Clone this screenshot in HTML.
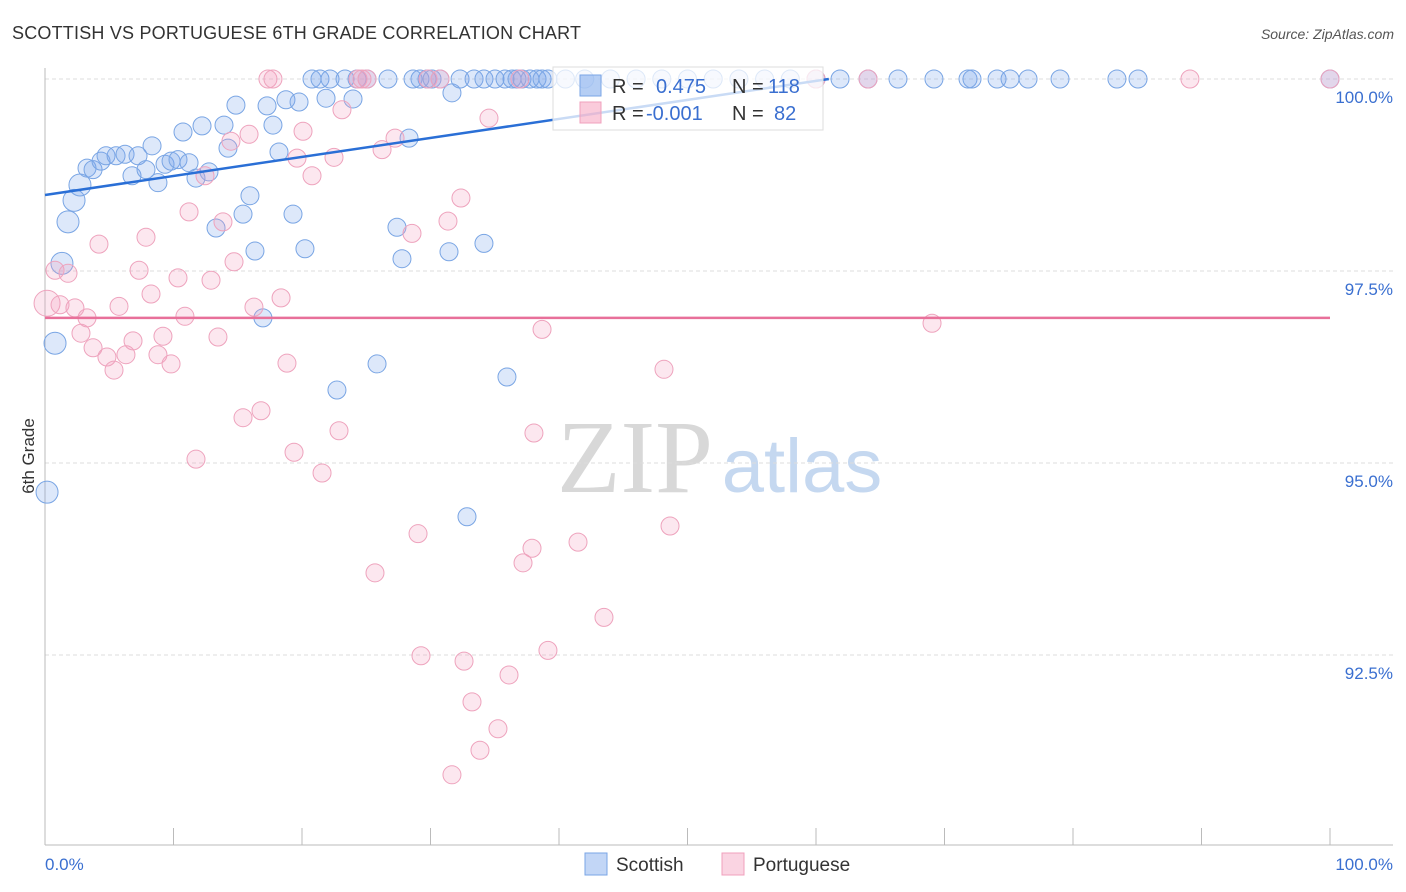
<!DOCTYPE html>
<html><head><meta charset="utf-8">
<style>
body{margin:0;background:#fff;font-family:"Liberation Sans",sans-serif;}
svg{display:block}
</style></head>
<body>
<svg id="chart" width="1406" height="892">
<text x="12" y="39" font-size="18" fill="#333" textLength="569">SCOTTISH VS PORTUGUESE 6TH GRADE CORRELATION CHART</text>
<text x="1394" y="39" font-size="14" fill="#555" font-style="italic" text-anchor="end">Source: ZipAtlas.com</text>
<text x="34" y="456" font-size="17" fill="#333" text-anchor="middle" transform="rotate(-90 34 456)">6th Grade</text>
<g>
<text x="635" y="492" font-size="104" fill="#d8d8d8" font-family="Liberation Serif,serif" text-anchor="middle">ZIP</text>
<text x="802" y="492" font-size="76" fill="#c5d8f0" text-anchor="middle">atlas</text>
</g>
<g id="grid"></g>
<g id="axes"></g>
<g id="pts"></g>
<g id="lines"></g>
<g>
<rect x="553" y="67" width="270" height="63" fill="rgba(255,255,255,0.75)" stroke="#ddd"/>
<rect x="580" y="75" width="21" height="21" fill="rgba(120,165,235,0.55)" stroke="#7aa5e6"/>
<rect x="580" y="102" width="21" height="21" fill="rgba(245,160,190,0.55)" stroke="#f0a0bc"/>
<text x="612" y="93" font-size="20" fill="#333">R =</text>
<text x="656" y="93" font-size="20" fill="#3a6fd0">0.475</text>
<text x="732" y="93" font-size="20" fill="#333">N =</text>
<text x="768" y="93" font-size="20" fill="#3a6fd0">118</text>
<text x="612" y="120" font-size="20" fill="#333">R =</text>
<text x="646" y="120" font-size="20" fill="#3a6fd0">-0.001</text>
<text x="732" y="120" font-size="20" fill="#333">N =</text>
<text x="774" y="120" font-size="20" fill="#3a6fd0">82</text>
</g>
<g>
<rect x="585" y="853" width="22" height="22" fill="rgba(120,165,235,0.45)" stroke="#7aa5e6"/>
<text x="616" y="871" font-size="19" fill="#333">Scottish</text>
<rect x="722" y="853" width="22" height="22" fill="rgba(245,160,190,0.45)" stroke="#f0a0bc"/>
<text x="753" y="871" font-size="19" fill="#333">Portuguese</text>
</g>
</svg>
<script>
const yTicks=[100,97.5,95,92.5];
const yTickLabels=["100.0%","97.5%","95.0%","92.5%"];
const xEndLabels=["0.0%","100.0%"];
const scottishX=[0.16,0.78,1.32,1.79,2.26,2.72,3.27,3.74,4.36,4.75,5.53,6.23,6.77,7.24,7.86,8.33,8.79,9.34,9.81,10.35,10.74,11.21,11.75,12.22,12.76,13.31,13.93,14.24,14.86,15.41,15.95,16.34,16.96,17.28,17.74,18.21,18.75,19.3,19.77,20.23,21.87,22.72,23.97,25.84,27.39,27.78,28.33,31.44,31.67,32.84,34.16,35.95,
20.78,21.4,22.18,23.35,24.28,25.06,26.69,28.64,29.18,29.73,30.12,30.74,32.3,33.39,34.16,35.02,35.8,36.34,36.73,37.12,37.74,38.29,38.68,39.14,40.5,42,44,46,48,50,52,54,56,58,60,61.87,64.05,66.38,69.18,71.83,72.14,74.09,75.1,76.5,78.99,83.42,85.06,100];
const scottishY=[94.62,96.56,97.6,98.14,98.42,98.62,98.84,98.82,98.93,99,99,99.02,98.74,99,98.82,99.13,98.65,98.89,98.93,98.95,99.31,98.91,98.71,99.39,98.79,98.06,99.4,99.1,99.66,98.24,98.48,97.76,96.89,99.65,99.4,99.05,99.73,98.24,99.7,97.79,99.75,95.95,99.74,96.29,98.07,97.66,99.23,97.75,99.82,94.3,97.86,96.12,
100,100,100,100,100,100,100,100,100,100,100,100,100,100,100,100,100,100,100,100,100,100,100,100,100,100,100,100,100,100,100,100,100,100,100,100,100,100,100,100,100,100,100,100,100,100,100,100];
const portugueseX=[0.16,0.78,1.17,1.79,2.33,2.8,3.27,3.74,4.2,4.82,5.37,5.76,6.3,6.85,7.32,7.86,8.25,8.79,9.18,9.81,10.35,10.89,11.21,11.75,12.45,12.92,13.46,13.85,14.47,14.71,15.41,15.88,16.26,16.81,17.35,17.74,18.37,18.83,19.38,19.61,20.08,20.78,21.56,22.49,22.88,23.11,24.36,24.67,25.06,25.68,26.23,27.24,28.56,29.03,29.26,29.81,30.74,31.36,31.67,32.37,32.61,33.23,33.85,34.55,35.25,36.11,36.96,37.2,37.9,38.05,38.68,39.14,41.48,43.5,48.17,48.64,60,64.05,69.03,89.1,100];
const portugueseY=[97.08,97.51,97.06,97.47,97.02,96.69,96.89,96.5,97.85,96.38,96.21,97.04,96.41,96.59,97.51,97.94,97.2,96.41,96.65,96.29,97.41,96.91,98.27,95.05,98.74,97.38,96.64,98.14,99.19,97.62,95.59,99.28,97.03,95.68,100,100,97.15,96.3,95.14,98.97,99.32,98.74,94.87,98.98,95.42,99.6,100,100,100,93.57,99.08,99.23,97.99,94.08,92.49,100,100,98.15,90.94,98.45,92.42,91.89,91.26,99.49,91.54,92.24,100,93.7,93.89,95.39,96.74,92.56,93.97,92.99,96.22,94.18,100,100,96.82,100,100];
const scottishTrend=[[0,98.49],[61,100]];
const portugueseTrend=[[0,96.89],[100,96.89]];
const NS="http://www.w3.org/2000/svg";
const X=v=>45+v*12.85, Y=v=>79+(100-v)*76.8;
function mk(tag,attrs,parent){const e=document.createElementNS(NS,tag);for(const k in attrs)e.setAttribute(k,attrs[k]);parent.appendChild(e);return e;}
const grid=document.getElementById('grid'),axes=document.getElementById('axes'),pts=document.getElementById('pts'),lines=document.getElementById('lines');
yTicks.forEach((t,i)=>{
 const l=mk('line',{x1:45,x2:1393,y1:Y(t),y2:Y(t),stroke:'#ddd','stroke-dasharray':'4,3'},grid);
 
 
 const tx=mk('text',{x:1393,y:Y(t)+24,'font-size':17,fill:'#3a6fd0','text-anchor':'end'},grid);
 tx.textContent=yTickLabels[i];
 
 
});
const ax=mk('line',{x1:45,x2:1393,y1:845,y2:845,stroke:'#bbb'},axes);


const ay=mk('line',{x1:45,x2:45,y1:68,y2:845,stroke:'#bbb'},axes);


for(let i=0;i<=10;i++){
 const tk=mk('line',{x1:X(i*10),x2:X(i*10),y1:828,y2:845,stroke:'#bbb'},axes);
 
 
}
const xl0=mk('text',{x:45,y:870,'font-size':17,fill:'#3a6fd0'},axes);xl0.textContent=xEndLabels[0];


const xl1=mk('text',{x:1393,y:870,'font-size':17,fill:'#3a6fd0','text-anchor':'end'},axes);xl1.textContent=xEndLabels[1];


scottishX.forEach((x,i)=>{
 const r=i<6?11:9;
 const c=mk('circle',{cx:X(x),cy:Y(scottishY[i]),r:r,fill:'rgba(120,165,235,0.25)',stroke:'#79a5e4','stroke-width':1},pts);
 
 
});
portugueseX.forEach((x,i)=>{
 const r=i===0?13:9;
 const c=mk('circle',{cx:X(x),cy:Y(portugueseY[i]),r:r,fill:'rgba(245,160,190,0.25)',stroke:'#eea3bd','stroke-width':1},pts);
 
 
});
const bl=mk('line',{x1:X(scottishTrend[0][0]),y1:Y(scottishTrend[0][1]),x2:X(scottishTrend[1][0]),y2:Y(scottishTrend[1][1]),stroke:'#2a6fd6','stroke-width':2.5},lines);


const pl=mk('line',{x1:X(portugueseTrend[0][0]),y1:Y(portugueseTrend[0][1]),x2:X(portugueseTrend[1][0]),y2:Y(portugueseTrend[1][1]),stroke:'#e8709a','stroke-width':2.5},lines);


</script>
</body></html>
